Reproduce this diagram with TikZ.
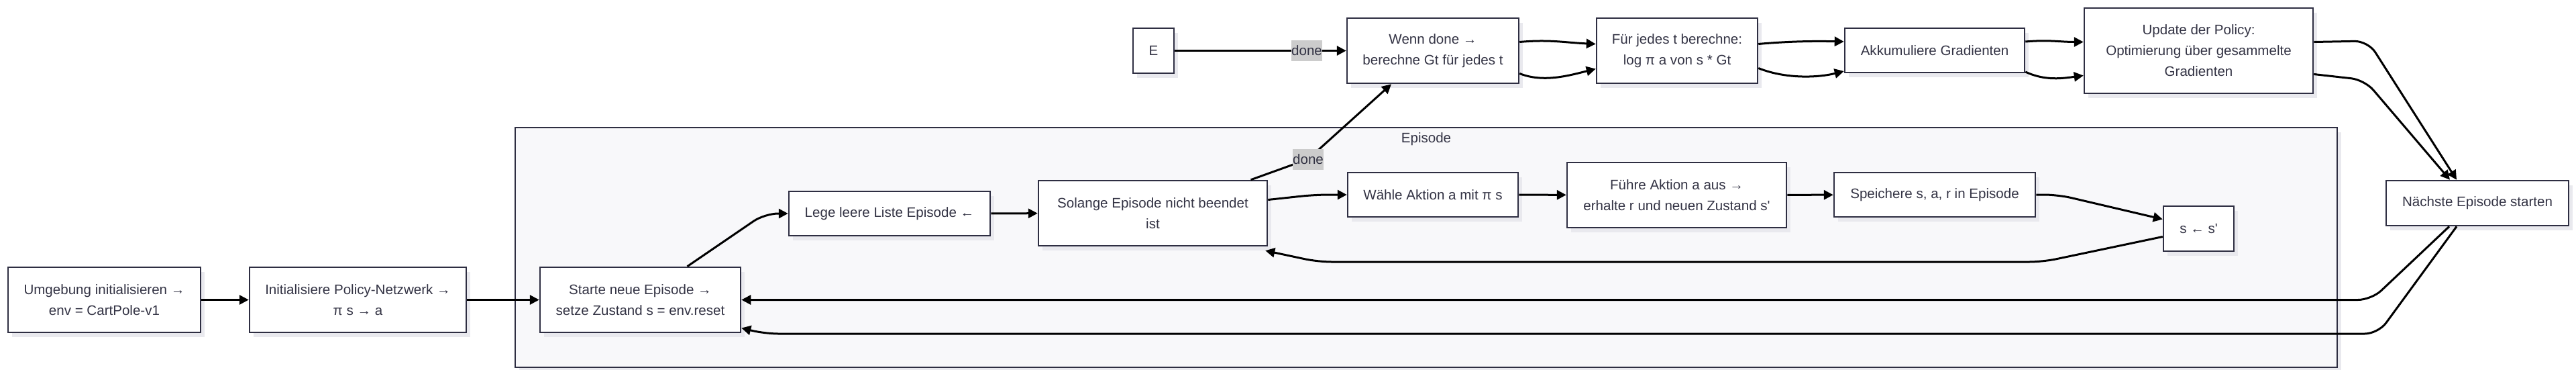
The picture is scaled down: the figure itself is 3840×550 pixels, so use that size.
\documentclass[tikz,border=0pt]{standalone}
\usepackage{fontspec}
\setmainfont{Liberation Sans}
\usetikzlibrary{arrows.meta, calc, shadows}
\definecolor{boxline}{HTML}{2E2E42}
\definecolor{boxtext}{HTML}{333344}
\definecolor{grpfill}{HTML}{F8F8FA}
\definecolor{lblfill}{HTML}{CCCCCC}
\definecolor{shade}{HTML}{E9E9EE}
\tikzstyle{process} = [rectangle, minimum height=19.4mm, align=center, draw=boxline, line width=0.5mm, fill=white, text=boxtext, drop shadow={shadow xshift=1.2mm, shadow yshift=-1.4mm, fill=shade, opacity=1}]
\tikzstyle{flat} = [process, minimum height=13.2mm]
\tikzstyle{group} = [draw=boxline, line width=0.5mm, fill=grpfill, drop shadow={shadow xshift=1.2mm, shadow yshift=-1.4mm, fill=shade, opacity=1}]
\tikzstyle{lbl} = [sharp corners, fill=lblfill, text=boxtext, inner xsep=0pt, inner ysep=0pt, minimum height=6.2mm]
\tikzstyle{arrow} = [line width=0.6mm, rounded corners=4mm, -{Triangle[length=2.8mm, width=2.8mm]}]

\begin{document}
\begin{tikzpicture}[x=0.2mm, y=-0.2mm]
\tikzstyle{every node}=[font=\fontsize{11.7pt}{17.6pt}\selectfont]
\useasboundingbox (0,0) rectangle (3840,550);

% Episode frame
\draw[group] (768,190) rectangle (3484,547);
\node (episode) [text=boxtext] at (2126,207) {Episode};

\node (umgebung) [process, minimum width=57.4mm] at (155.5,446.5) {Umgebung initialisieren →\\env = CartPole-v1};
\node (policy) [process, minimum width=64.6mm] at (533.5,446.5) {Initialisiere Policy-Netzwerk →\\π s → a};
\node (starte) [process, minimum width=59.8mm] at (954.5,446.5) {Starte neue Episode →\\setze Zustand s = env.reset};
\node (liste) [flat, minimum width=60mm] at (1326,318) {Lege leere Liste Episode ←};
\node (solange) [process, minimum width=68.2mm] at (1718.5,317.5) {Solange Episode nicht beendet\\ist};
\node (waehle) [flat, minimum width=50.8mm] at (2136,290) {Wähle Aktion a mit π s};
\node (fuehre) [process, minimum width=65.4mm] at (2499.5,290.5) {Führe Aktion a aus →\\erhalte r und neuen Zustand s\textquotesingle};
\node (speichere) [flat, minimum width=60mm] at (2884,290) {Speichere s, a, r in Episode};
\node (s_neu) [flat, minimum width=21mm, minimum height=13.4mm] at (3277.5,340.5) {s ← s\textquotesingle};

\node (E) [flat, minimum width=12.2mm, minimum height=13.4mm] at (1719.5,75.5) {E};
\node (wenn) [process, minimum width=51.2mm] at (2136,75.5) {Wenn done →\\berechne Gt für jedes t};
\node (fuer_t) [process, minimum width=48mm] at (2500,75.5) {Für jedes t berechne:\\log π a von s * Gt};
\node (akku) [flat, minimum width=53.6mm] at (2884,75) {Akkumuliere Gradienten};
\node (update) [process, minimum width=68.2mm, minimum height=25.4mm] at (3277.5,75.5) {Update der Policy:\\Optimierung über gesammelte\\Gradienten};
\node (naechste) [flat, minimum width=54.4mm, minimum height=13.4mm] at (3693,302.5) {Nächste Episode starten};

% main chain
\draw[arrow] (umgebung) -- (policy);
\draw[arrow] (policy) -- (starte);
\draw[arrow] ($(starte.north)+(70,0)$) -- (1140,318) -- (liste.west);
\draw[arrow] (liste) -- (solange);
\draw[arrow] ($(solange.east)+(0,-20)$) -- (1960,290) -- (waehle.west);
\draw[arrow] (waehle) -- (fuehre);
\draw[arrow] (fuehre) -- (speichere);
\draw[arrow] (speichere.east) -- (3068,290) -- ($(s_neu.west)+(0,-14)$);
\draw[arrow] ($(s_neu.west)+(0,12)$) -- (3045,390) -- (1965,390) -- ($(solange.south east)+(-4,6)$);

% done branch
\draw[arrow] ($(solange.north)+(146,0)$) -- (1950,237) node[lbl] (done_b) {done} -- ($(wenn.south)+(-62,0)$);
\draw[arrow] (E) -- node[lbl, pos=0.77] (done_a) {done} (wenn);

\draw[arrow] ($(wenn.east)+(0,-13)$) .. controls +(45,-4) and +(-45,-2) .. ($(fuer_t.west)+(0,-10)$);
\draw[arrow] ($(wenn.east)+(0,34)$) .. controls +(35,14) and +(-40,10) .. ($(fuer_t.west)+(0,27)$);
\draw[arrow] ($(fuer_t.east)+(0,-10)$) .. controls +(45,-4) and +(-45,-1) .. ($(akku.west)+(0,-13)$);
\draw[arrow] ($(fuer_t.east)+(0,26)$) .. controls +(40,16) and +(-40,10) .. ($(akku.west)+(0,31)$);
\draw[arrow] ($(akku.east)+(0,-13)$) .. controls +(35,-3) and +(-35,0) .. ($(update.west)+(0,-13)$);
\draw[arrow] ($(akku.east)+(0,32)$) .. controls +(30,14) and +(-30,4) .. ($(update.west)+(0,37)$);

% next episode
\draw[arrow] ($(update.east)+(0,-13)$) -- (3530,61) -- ($(naechste.north)+(-31,0)$);
\draw[arrow] ($(update.east)+(0,35)$) -- (3525,119) -- ($(naechste.north)+(-41,0)$);
\draw[arrow] ($(naechste.south)+(-42,0)$) -- (3535,446.5) -- (starte.east);
\draw[arrow] ($(naechste.south)+(-31,0)$) -- (3545,497) -- (1140,497) -- ($(starte.east)+(0,42)$);
\end{tikzpicture}
\end{document}
